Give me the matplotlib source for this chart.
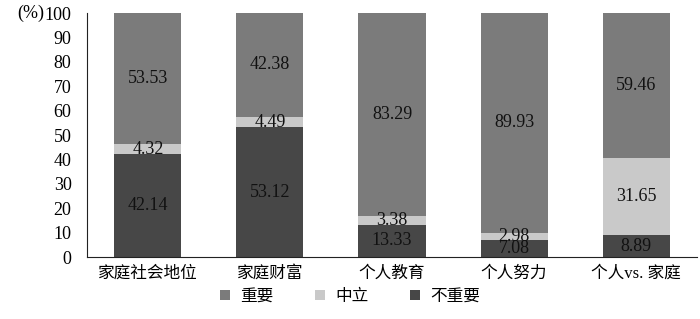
import matplotlib
matplotlib.use("Agg")
import matplotlib.pyplot as plt
import numpy as np

categories = ["家庭社会地位", "家庭财富", "个人教育", "个人努力", "个人vs. 家庭"]
unimportant = [42.14, 53.12, 13.33, 7.08, 8.89]
neutral = [4.32, 4.49, 3.38, 2.98, 31.65]
important = [53.53, 42.38, 83.29, 89.93, 59.46]
series_names = ["重要", "中立", "不重要"]

plt.rcParams['font.family'] = ['Liberation Serif', 'Noto Sans CJK SC']

fig = plt.figure(figsize=(7, 3.19), dpi=100)
ax = fig.add_axes([0.124, 0.194, 0.872, 0.765])

x = np.arange(len(categories))
w = 0.55
c_imp, c_neu, c_un = "#7b7b7b", "#c9c9c9", "#474747"
b1 = ax.bar(x, unimportant, w, color=c_un, label=series_names[2])
bot2 = np.array(unimportant)
b2 = ax.bar(x, neutral, w, bottom=bot2, color=c_neu, label=series_names[1])
bot3 = bot2 + np.array(neutral)
b3 = ax.bar(x, important, w, bottom=bot3, color=c_imp, label=series_names[0])

for vals, bottoms in [(unimportant, np.zeros(len(x))), (neutral, bot2), (important, bot3)]:
    for xi, v, b in zip(x, vals, bottoms):
        ax.text(xi, b + v / 2, f"{v:.2f}", ha="center", va="center", fontsize=13, color="#111111")

ax.set_xlim(-0.5, len(categories) - 0.5)
ax.set_ylim(0, 100)
ax.set_yticks(range(0, 101, 10))
ax.set_xticks(x)
ax.set_xticklabels(categories, fontsize=12)
ax.tick_params(axis='y', labelsize=13, length=0, pad=11)
ax.tick_params(axis='x', length=0, pad=6)
for s in ["top", "right"]:
    ax.spines[s].set_visible(False)
ax.spines["left"].set_color("#222222")
ax.spines["bottom"].set_color("#222222")
fig.text(44 / 700, 1 - 13 / 319, "(%)", ha="right", va="center", fontsize=13)

handles = [b3, b2, b1]
fig.legend(handles, series_names, loc="center", bbox_to_anchor=(0.5, 0.07), ncol=3,
           frameon=False, fontsize=12, handlelength=0.6, handleheight=0.6, columnspacing=2.5,
           handletextpad=0.6)

fig.savefig("out.png", dpi=100)
